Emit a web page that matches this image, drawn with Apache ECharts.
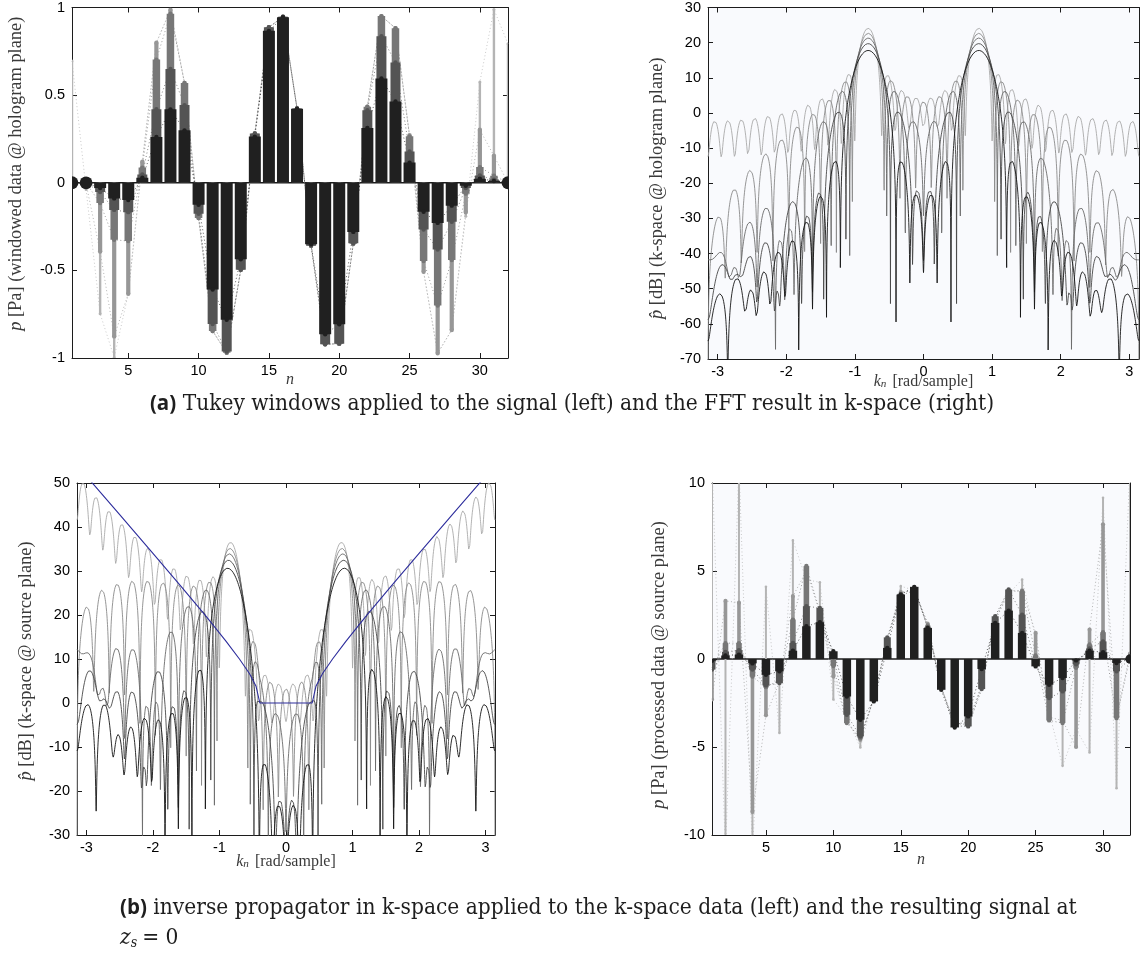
<!DOCTYPE html>
<html>
<head>
<meta charset="utf-8">
<script src="https://cdn.jsdelivr.net/npm/echarts@6/dist/echarts.min.js"></script>
<style>
  html, body { margin: 0; padding: 0; background: #ffffff; }
  #chart { width: 1144px; height: 958px; }
</style>
</head>
<body>
<div id="chart"></div>
<script>
// ---- data -------------------------------------------------------------
// sample index n of the hologram line
const sampleIndex = [1,2,3,4,5,6,7,8,9,10,11,12,13,14,15,16,17,18,19,20,21,22,23,24,25,26,27,28,29,30,31,32];

// measured pressure at the hologram plane [Pa] (unwindowed)
const hologramSignal = [0.695, -0.038, -0.747, -0.997, -0.634, 0.120, 0.799, 0.987,
  0.569, -0.201, -0.846, -0.970, -0.497, 0.281, 0.887, 0.947,
  0.424, -0.359, -0.922, -0.918, -0.348, 0.434, 0.951, 0.882,
  0.271, -0.508, -0.973, -0.840, -0.191, 0.575, 0.989, 0.793];

// Tukey taper ratios, from rectangular (0) to Hann (1)
const tukeyRatios = [0, 0.25, 0.5, 0.75, 1];

// inverse propagator magnitude versus |k_n|
const propagatorK  = [0, 0.393, 0.45, 0.55, 0.7, 0.9, 1.2, 1.6, 2.0, 2.5, 2.9, 3.1416];
const propagatorDb = [0, 0,     3.8,  6.7,  10.0, 14.0, 19.7, 26.9, 34.0, 42.8, 49.8, 54.0];

// back-propagated signal at the source plane [Pa], one list per window
const sourceRect = [11, -11, 11, -11, 4.1, -4.2, 6.74, 4.5, 4.36, -2.3, -3.3, -5.03, -2.1, 0.9, 4.14, 3.9,
  2.05, -1.6, -3.7, -3.6, -1.4, 2.2, 3.7, 4.52, 1.2, -3.0, -6.07, -4.0, -5.31, 9.16, -7.34, 11];
const sourceTukey25 = [-2.3, 3.3, 3.2, -8.7, -3.2, -1.3, 3.57, 5.0, 2.6, -1.0, -3.5, -4.6, -2.2, 1.0, 3.8, 3.9,
  2.0, -1.6, -3.7, -3.6, -1.5, 2.2, 3.8, 3.9, 1.48, -3.3, -3.5, -5.0, 1.67, 7.65, -3.3, 0.3];
const sourceTukey50 = [-0.5, 0.9, 0.9, -1.0, -1.6, -1.2, 2.24, 5.28, 2.7, -0.4, -3.64, -4.5, -2.2, 1.1, 3.6, 3.9,
  1.9, -1.6, -3.7, -3.7, -1.6, 2.3, 3.9, 3.85, 0.2, -3.49, -3.64, -0.5, 0.82, 1.52, -3.36, 0.1];
const sourceTukey75 = [-0.6, 0.4, 0.5, -0.6, -1.5, -1.37, 0.91, 3.0, 2.9, 0.1, -3.17, -4.4, -2.3, 1.23, 3.7, 4.0,
  1.8, -1.6, -3.8, -3.83, -1.71, 2.43, 3.95, 2.52, -0.3, -2.22, -1.84, -0.3, 0.6, 1.0, -0.7, 0];
const sourceHann = [-0.1, 0.2, 0.25, -0.25, -0.9, -0.7, 0.47, 1.86, 2.09, 0.44, -2.13, -3.45, -2.41, 0.63, 3.66, 4.1,
  1.76, -1.75, -3.89, -3.26, -0.57, 2.05, 2.75, 1.48, -0.42, -1.46, -1.08, -0.08, 0.47, 0.38, -0.23, 0];
const sourceSignals = [sourceRect, sourceTukey25, sourceTukey50, sourceTukey75, sourceHann];

// tick positions
const sampleTicks = [5, 10, 15, 20, 25, 30];
const waveTicks = [-3, -2, -1, 0, 1, 2, 3];

// ---- styling ----------------------------------------------------------
const shades     = ['#b4b4b4', '#979797', '#777777', '#545454', '#202020'];
const curveShades = ['#a9a9a9', '#8a8a8a', '#6b6b6b', '#474747', '#151515'];
const stemWidthTop = [2.4, 4.2, 7.5, 10, 12];
const stemWidthBottom = [2, 3.6, 5.6, 7, 8.5];
const axisColor = '#1c1c1c';
const serif = 'Liberation Serif';
const sans = 'Liberation Sans';
const captionFont = '"DejaVu Serif Condensed", "Liberation Serif", serif';

// ---- processing -------------------------------------------------------
function tukey(len, r) {
  const w = [];
  for (let i = 0; i < len; i++) {
    const x = i / (len - 1);
    if (r <= 0) { w.push(1); continue; }
    if (x < r / 2) w.push(0.5 * (1 + Math.cos(2 * Math.PI / r * (x - r / 2))));
    else if (x > 1 - r / 2) w.push(0.5 * (1 + Math.cos(2 * Math.PI / r * (x - 1 + r / 2))));
    else w.push(1);
  }
  return w;
}
const windowed = tukeyRatios.map(r => {
  const w = tukey(hologramSignal.length, r);
  return hologramSignal.map((v, i) => v * w[i]);
});

const K_POINTS = 2401;
function spectrumDb(x) {
  const out = [];
  for (let m = 0; m < K_POINTS; m++) {
    const k = -Math.PI + 2 * Math.PI * m / (K_POINTS - 1);
    let re = 0, im = 0;
    for (let i = 0; i < x.length; i++) {
      re += x[i] * Math.cos(k * i);
      im -= x[i] * Math.sin(k * i);
    }
    out.push([k, 20 * Math.log10(Math.max(Math.hypot(re, im), 1e-9))]);
  }
  return out;
}
function propagatorAt(k) {
  const a = Math.abs(k);
  for (let i = 1; i < propagatorK.length; i++) {
    if (a <= propagatorK[i]) {
      const t = (a - propagatorK[i - 1]) / (propagatorK[i] - propagatorK[i - 1]);
      return propagatorDb[i - 1] + t * (propagatorDb[i] - propagatorDb[i - 1]);
    }
  }
  return propagatorDb[propagatorDb.length - 1];
}
const spectra = windowed.map(spectrumDb);
const sourceSpectra = spectra.map(s => s.map(p => [p[0], p[1] + propagatorAt(p[0])]));
const propagatorLine = [];
for (let i = propagatorK.length - 1; i >= 0; i--) propagatorLine.push([-propagatorK[i], propagatorDb[i]]);
for (let i = 1; i < propagatorK.length; i++) propagatorLine.push([propagatorK[i], propagatorDb[i]]);

// ---- axes -------------------------------------------------------------
const tickLabel = { color: '#000', fontFamily: sans, fontSize: 14.5 };
const nameStyle = (size, padding) => ({
  color: '#3a3a3a', fontFamily: serif, fontSize: size, padding,
  rich: {
    i: { fontFamily: serif, fontStyle: 'italic', fontSize: size, color: '#3a3a3a' },
    s: { fontFamily: serif, fontStyle: 'italic', fontSize: size * 0.7, color: '#3a3a3a', verticalAlign: 'bottom', padding: [0, 2, 0, 0] }
  }
});
function xPair(g, min, max, ticks, name, gap) {
  const mk = (pos) => ({
    gridIndex: g, type: 'value', min, max, position: pos,
    splitLine: { show: false },
    axisLine: { show: true, onZero: false, lineStyle: { color: axisColor, width: 1 } },
    axisTick: { show: true, inside: true, length: 5, customValues: ticks, lineStyle: { color: axisColor } },
    axisLabel: pos === 'bottom'
      ? Object.assign({ customValues: ticks, margin: 5 }, tickLabel)
      : { show: false }
  });
  const b = mk('bottom');
  b.name = name; b.nameLocation = 'middle'; b.nameGap = gap; b.nameMoveOverlap = false;
  b.nameTextStyle = nameStyle(16, 0);
  return [b, mk('top')];
}
function yPair(g, min, max, interval, name, gap, padding) {
  const mk = (pos) => ({
    gridIndex: g, type: 'value', min, max, interval, position: pos,
    splitLine: { show: false },
    axisLine: { show: true, onZero: false, lineStyle: { color: axisColor, width: 1 } },
    axisTick: { show: true, inside: true, length: 5, lineStyle: { color: axisColor } },
    axisLabel: pos === 'left' ? Object.assign({ margin: 7 }, tickLabel) : { show: false }
  });
  const l = mk('left');
  l.name = name; l.nameLocation = 'middle'; l.nameRotate = 90; l.nameGap = gap; l.nameMoveOverlap = false;
  l.nameTextStyle = nameStyle(18.4, padding);
  return [l, mk('right')];
}

const PI = Math.PI;
const xAxis = [].concat(
  xPair(0, 1, 32, sampleTicks, '{i|n}', 14),
  xPair(1, -PI, PI, waveTicks, '{i|k}{s|n} [rad/sample]', 15),
  xPair(2, -PI, PI, waveTicks, '{i|k}{s|n} [rad/sample]', 19),
  xPair(3, 1, 32, sampleTicks, '{i|n}', 17)
);
const yAxis = [].concat(
  yPair(0, -1, 1, 0.5, '{i|p} [Pa] (windowed data @ hologram plane)', 47, [0, 0, 0, 18]),
  yPair(1, -70, 30, 10, '{i|p\u0302} [dB] (k-space @ hologram plane)', 42, [0, 10, 0, 0]),
  yPair(2, -30, 50, 10, '{i|p\u0302} [dB] (k-space @ source plane)', 42, [0, 4, 0, 0]),
  yPair(3, -10, 10, 5, '{i|p} [Pa] (processed data @ source plane)', 44, [0, 12, 0, 0])
);

// ---- series -----------------------------------------------------------
function stems(g, values, color, width, z) {
  return {
    type: 'custom', xAxisIndex: 2 * g, yAxisIndex: 2 * g, clip: true, z, silent: true,
    data: values.map((v, i) => [sampleIndex[i], v]),
    renderItem(params, api) {
      const n = api.value(0), v = api.value(1);
      const a = api.coord([n, 0]);
      const b = api.coord([n, v]);
      const h = Math.abs(a[1] - b[1]);
      const flat = h < 1.2;
      return {
        type: 'group',
        children: [
          { type: 'rect', shape: { x: a[0] - width / 2, y: Math.min(a[1], b[1]), width, height: h }, style: { fill: color } },
          { type: 'circle', shape: { cx: b[0], cy: b[1], r: flat ? width / 2 + 0.4 : Math.min(2.2, width / 2 + 0.3) }, style: { fill: color } }
        ]
      };
    }
  };
}
function dotted(g, values, color, z) {
  return {
    type: 'line', xAxisIndex: 2 * g, yAxisIndex: 2 * g, z, silent: true,
    data: values.map((v, i) => [sampleIndex[i], v]),
    showSymbol: false, symbol: 'none', animation: false,
    lineStyle: { color, width: 0.9, type: [1, 2.5], opacity: 0.8 }
  };
}
function baseline(g, xmin, xmax) {
  return {
    type: 'line', xAxisIndex: 2 * g, yAxisIndex: 2 * g, z: 1, silent: true,
    data: [[xmin, 0], [xmax, 0]], showSymbol: false, symbol: 'none', animation: false,
    lineStyle: { color: '#1c1c1c', width: 1.5 }
  };
}
function curve(g, pts, color, width, z) {
  return {
    type: 'line', xAxisIndex: 2 * g, yAxisIndex: 2 * g, z, silent: true,
    data: pts, showSymbol: false, symbol: 'none', animation: false, clip: true,
    lineStyle: { color, width }
  };
}

const series = [];
// top-left: windowed samples
series.push(baseline(0, 1, 32));
windowed.forEach((vals, j) => series.push(dotted(0, vals, shades[j], 2)));
windowed.forEach((vals, j) => series.push(stems(0, vals, shades[j], stemWidthTop[j], 3 + j)));
// top-right: spectra at the hologram plane
spectra.forEach((pts, j) => series.push(curve(1, pts, curveShades[j], 0.9, 2 + j)));
// bottom-left: spectra at the source plane and the inverse propagator
sourceSpectra.forEach((pts, j) => series.push(curve(2, pts, curveShades[j], 0.9, 2 + j)));
series.push(curve(2, propagatorLine, '#2c2c9c', 1.1, 10));
// bottom-right: back-propagated samples
series.push(baseline(3, 1, 32));
sourceSignals.forEach((vals, j) => series.push(dotted(3, vals, shades[j], 2)));
sourceSignals.forEach((vals, j) => series.push(stems(3, vals, shades[j], stemWidthBottom[j], 3 + j)));

const captionRich = {
  b: { fontFamily: 'Open Sans', fontWeight: 'bold', fontSize: 20.5, fill: '#1e1e1e' },
  i: { fontFamily: captionFont, fontStyle: 'italic', fontSize: 22.5, fill: '#1e1e1e' },
  s: { fontFamily: captionFont, fontStyle: 'italic', fontSize: 14, fill: '#1e1e1e', verticalAlign: 'bottom', padding: [0, 5, 0, 0] }
};

const option = {
  animation: false,
  backgroundColor: '#ffffff',
  grid: [
    { left: 72, top: 7, width: 436, height: 351, show: false },
    { left: 708, top: 7, width: 431, height: 352, show: true, backgroundColor: '#f9fafd', borderWidth: 0 },
    { left: 77, top: 483, width: 418, height: 352, show: false },
    { left: 712, top: 483, width: 418, height: 352, show: true, backgroundColor: '#f9fafd', borderWidth: 0 }
  ],
  xAxis, yAxis, series,
  graphic: [
    {
      type: 'text', left: 'center', top: 393,
      style: {
        text: '{b|(a)} Tukey windows applied to the signal (left) and the FFT result in k-space (right)',
        fontFamily: captionFont, fontSize: 22.5, fill: '#1e1e1e', rich: captionRich
      }
    },
    {
      type: 'text', left: 120, top: 897,
      style: {
        text: '{b|(b)} inverse propagator in k-space applied to the k-space data (left) and the resulting signal at',
        fontFamily: captionFont, fontSize: 22.5, fill: '#1e1e1e', rich: captionRich
      }
    },
    {
      type: 'text', left: 120, top: 927,
      style: {
        text: '{i|z}{s|s}= 0',
        fontFamily: captionFont, fontSize: 22.5, fill: '#1e1e1e', rich: captionRich
      }
    }
  ]
};

const chart = echarts.init(document.getElementById('chart'), null, { renderer: 'canvas' });
chart.setOption(option);
</script>
</body>
</html>
